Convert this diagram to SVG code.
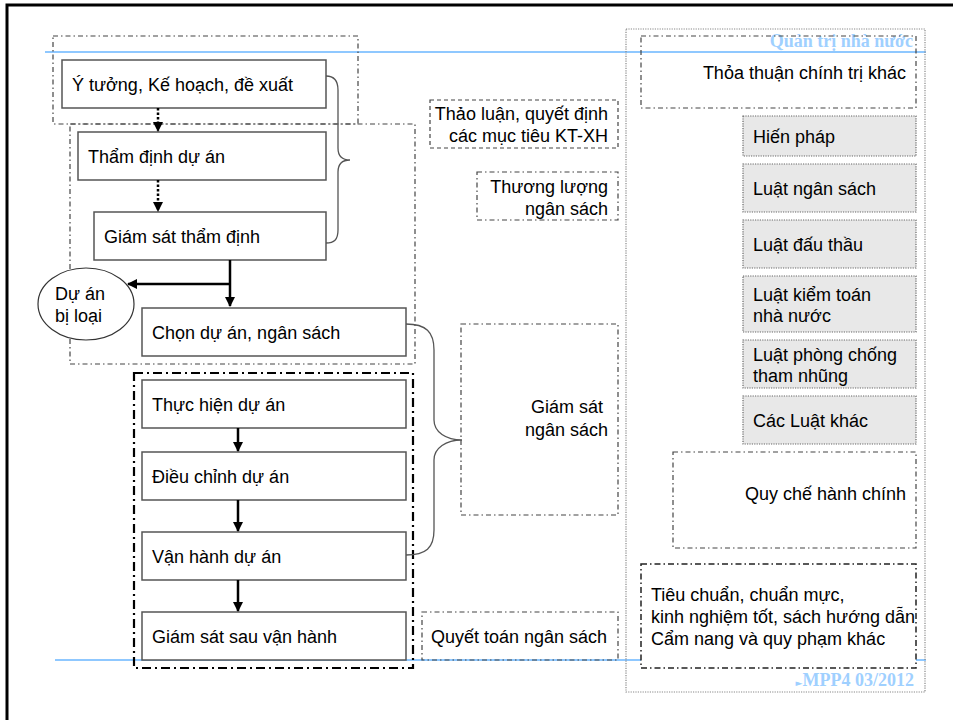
<svg xmlns="http://www.w3.org/2000/svg" width="953" height="720" viewBox="0 0 953 720">
<defs>
<style>
text{font-family:"Liberation Sans",Arial,sans-serif;font-size:18px;fill:#000}
.r{text-anchor:end}
.box{fill:#fff;stroke:#555;stroke-width:1.5}
.gray{fill:#e8e8e8;stroke:#666;stroke-width:1.2;stroke-dasharray:1.2 1.2}
.dd{fill:none;stroke:#444;stroke-width:1.2;stroke-dasharray:5 3 1.5 3}
.ddw{fill:#fff;stroke:#222;stroke-width:1.5;stroke-dasharray:6 3 1.5 3}
.dash{fill:none;stroke:#444;stroke-width:1.2;stroke-dasharray:4 3}
.ddthick{fill:none;stroke:#000;stroke-width:2.2;stroke-dasharray:9 4 2 4}
.blue{stroke:#8fc8ff;stroke-width:2}
.brace{fill:none;stroke:#555;stroke-width:1.3}
.ttl{font-family:"Liberation Serif","Times New Roman",serif;font-weight:bold;fill:#9fd0ff}
</style>
<marker id="ah" viewBox="0 0 10 10" refX="9" refY="5" markerWidth="4" markerHeight="4" orient="auto"><path d="M0,0L10,5L0,10z" fill="#000"/></marker>
</defs>
<rect x="7" y="5" width="960" height="730" fill="none" stroke="#000" stroke-width="3"/>

<g id="lines">
<line class="blue" x1="45" y1="52" x2="926" y2="52"/>
<line class="blue" x1="55" y1="660" x2="926" y2="660"/>
</g>

<g id="groups">
<rect class="dd" x="53" y="36" width="305" height="88"/>
<rect class="dd" x="70" y="124" width="345" height="240"/>
<rect class="ddthick" x="134" y="373" width="279" height="295"/>
<rect x="626" y="29" width="299" height="663" fill="none" stroke="#888" stroke-width="1.2" stroke-dasharray="1.2 1.2"/>
</g>

<g id="n1"><rect class="box" x="62" y="60" width="264" height="48"/><text x="72" y="91">Ý tưởng, Kế hoạch, đề xuất</text></g>
<g id="n2"><rect class="box" x="78" y="132" width="248" height="48"/><text x="88" y="163">Thẩm định dự án</text></g>
<g id="n3"><rect class="box" x="94" y="212" width="232" height="48"/><text x="104" y="243">Giám sát thẩm định</text></g>
<g id="n4"><ellipse cx="86" cy="304" rx="48" ry="36" fill="#fff" stroke="#333" stroke-width="1.2"/><text x="55" y="300">Dự án</text><text x="55" y="322">bị loại</text></g>
<g id="n5"><rect class="box" x="142" y="308" width="264" height="48"/><text x="152" y="339">Chọn dự án, ngân sách</text></g>
<g id="n6"><rect class="box" x="142" y="380" width="264" height="48"/><text x="152" y="411">Thực hiện dự án</text></g>
<g id="n7"><rect class="box" x="142" y="452" width="264" height="48"/><text x="152" y="483">Điều chỉnh dự án</text></g>
<g id="n8"><rect class="box" x="142" y="532" width="264" height="48"/><text x="152" y="563">Vận hành dự án</text></g>
<g id="n9"><rect class="box" x="142" y="612" width="264" height="48"/><text x="152" y="643">Giám sát sau vận hành</text></g>

<g id="n10"><rect class="dash" x="430" y="100" width="188" height="48"/><text class="r" x="608" y="120">Thảo luận, quyết định</text><text class="r" x="608" y="142">các mục tiêu KT-XH</text></g>
<g id="n11"><rect class="dd" x="477" y="172" width="141" height="48"/><text class="r" x="608" y="193">Thương lượng</text><text class="r" x="608" y="215">ngân sách</text></g>
<g id="n12"><rect class="dd" x="461" y="324" width="157" height="191" stroke="#666"/><text class="r" x="603" y="413">Giám sát</text><text class="r" x="608" y="436">ngân sách</text></g>
<g id="n13"><rect class="dd" x="422" y="612" width="196" height="48"/><text x="431" y="643">Quyết toán ngân sách</text></g>

<g id="title"><text class="ttl r" x="913" y="47">Quản trị nhà nước</text></g>
<g id="n14"><rect class="dd" x="641" y="36" width="275" height="72"/><text class="r" x="906" y="79">Thỏa thuận chính trị khác</text></g>
<g id="n15"><rect class="gray" x="743" y="116" width="173" height="40"/><text x="753" y="143">Hiến pháp</text></g>
<g id="n16"><rect class="gray" x="743" y="164" width="173" height="48"/><text x="753" y="195">Luật ngân sách</text></g>
<g id="n17"><rect class="gray" x="743" y="220" width="173" height="48"/><text x="753" y="251">Luật đấu thầu</text></g>
<g id="n18"><rect class="gray" x="743" y="276" width="173" height="56"/><text x="753" y="301">Luật kiểm toán</text><text x="753" y="322">nhà nước</text></g>
<g id="n19"><rect class="gray" x="743" y="340" width="173" height="48"/><text x="753" y="361">Luật phòng chống</text><text x="753" y="382">tham nhũng</text></g>
<g id="n20"><rect class="gray" x="743" y="396" width="173" height="48"/><text x="753" y="427">Các Luật khác</text></g>
<g id="n21"><rect class="dd" x="673" y="452" width="243" height="96"/><text class="r" x="906" y="500">Quy chế hành chính</text></g>
<g id="n22"><rect class="ddw" x="641" y="564" width="275" height="104"/><text x="651" y="601">Tiêu chuẩn, chuẩn mực,</text><text x="651" y="623">kinh nghiệm tốt, sách hướng dẫn</text><text x="651" y="645">Cẩm nang và quy phạm khác</text></g>
<g id="footer"><text class="ttl r" x="914" y="686" font-size="10"><tspan font-family="DejaVu Sans,sans-serif" font-size="9">►</tspan>MPP4 03/2012</text></g>

<g id="connectors">
<line x1="158" y1="108" x2="158" y2="131" stroke="#000" stroke-width="2.5" stroke-dasharray="2.5 2" marker-end="url(#ah)"/>
<line x1="158" y1="180" x2="158" y2="211" stroke="#000" stroke-width="2.5" stroke-dasharray="2.5 2" marker-end="url(#ah)"/>
<line x1="230" y1="260" x2="230" y2="306" stroke="#000" stroke-width="2.5" marker-end="url(#ah)"/>
<line x1="231" y1="284" x2="128" y2="284" stroke="#000" stroke-width="2.5" marker-end="url(#ah)"/>
<line x1="238" y1="428" x2="238" y2="451" stroke="#000" stroke-width="2.5" marker-end="url(#ah)"/>
<line x1="238" y1="500" x2="238" y2="531" stroke="#000" stroke-width="2.5" marker-end="url(#ah)"/>
<line x1="238" y1="580" x2="238" y2="611" stroke="#000" stroke-width="2.5" marker-end="url(#ah)"/>
<path class="brace" d="M326,76 C334,76 338,80 338,90 L338,148 C338,156 342,160 350,160 C342,160 338,164 338,172 L338,230 C338,240 334,243 326,243"/>
<path class="brace" d="M406,324 C426,324 434,332 434,350 L434,420 C434,432 446,440 462,440 C446,440 434,448 434,460 L434,530 C434,548 426,555 406,555"/>
</g>
</svg>
